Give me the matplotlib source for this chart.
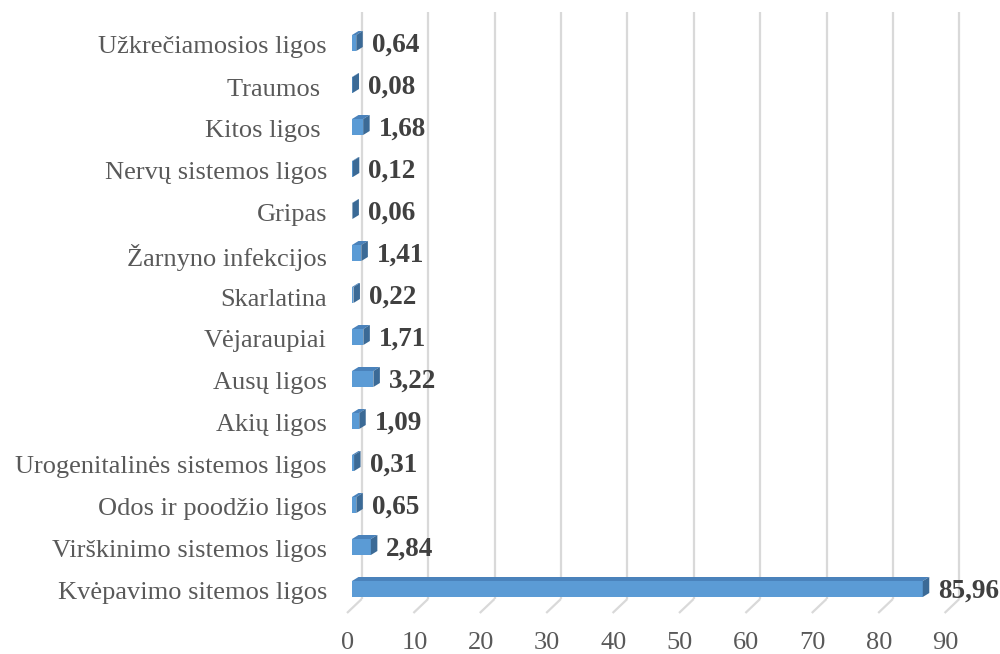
import matplotlib
matplotlib.use("Agg")
import matplotlib.pyplot as plt
from matplotlib.patches import Polygon
from matplotlib.transforms import ScaledTranslation

plt.rcParams['font.family'] = ['Liberation Serif', 'DejaVu Serif']

categories = [
    "Kvėpavimo sitemos ligos",
    "Virškinimo sistemos ligos",
    "Odos ir poodžio ligos",
    "Urogenitalinės sistemos ligos",
    "Akių ligos",
    "Ausų ligos",
    "Vėjaraupiai",
    "Skarlatina",
    "Žarnyno infekcijos",
    "Gripas",
    "Nervų sistemos ligos",
    "Kitos ligos ",
    "Traumos ",
    "Užkrečiamosios ligos",
]
values = [85.96, 2.84, 0.65, 0.31, 1.09, 3.22, 1.71, 0.22, 1.41, 0.06, 0.12, 1.68, 0.08, 0.64]
value_labels = ["85,96", "2,84", "0,65", "0,31", "1,09", "3,22", "1,71", "0,22", "1,41",
                "0,06", "0,12", "1,68", "0,08", "0,64"]
xticks = [0, 10, 20, 30, 40, 50, 60, 70, 80, 90]

W, H, DPI = 1000, 654, 100
fig = plt.figure(figsize=(W / DPI, H / DPI), dpi=DPI)

# axes geometry in pixels (from top-left)
ax_left_px, ax_right_px = 352, 949.6
ax_top_px, ax_bot_px = 12, 599
ymin = -8 / 42
ymax = (591 - 12) / 42
ax = fig.add_axes([ax_left_px / W, (H - ax_bot_px) / H,
                   (ax_right_px - ax_left_px) / W, (ax_bot_px - ax_top_px) / H])
ax.set_xlim(0, 90)
ax.set_ylim(ymin, ymax)
for s in ax.spines.values():
    s.set_visible(False)

PX = 90 / (ax_right_px - ax_left_px)   # data x per pixel
PY = 1 / 42                              # data y per pixel

# back-wall gridlines and floor diagonals
back_dx = 9.7 * PX
for t in xticks:
    ax.plot([t + back_dx, t + back_dx], [ymin, ymax], color='#d9d9d9', lw=1.6,
            zorder=0, clip_on=False, solid_capstyle='butt')
    ax.plot([t + back_dx, t - 5 * PX], [ymin, ymin - 14 * PY], color='#d9d9d9', lw=1.6,
            zorder=0, clip_on=False, solid_capstyle='butt')

front_col = '#5b9bd5'
top_col = '#4a82bb'
side_col = '#3b6a96'
h = 16 * PY
dx, dy = 6.5 * PX, 4 * PY
for k, (v, lab) in enumerate(zip(values, value_labels)):
    yc = k + 2 * PY
    ax.barh(yc, v, height=h, left=0, color=front_col, edgecolor='none', zorder=3)
    top = yc + h / 2
    bot = yc - h / 2
    ax.add_patch(Polygon([(0, top), (v, top), (v + dx, top + dy), (dx, top + dy)],
                         closed=True, facecolor=top_col, edgecolor='none', zorder=3))
    ax.add_patch(Polygon([(v, bot), (v, top), (v + dx, top + dy), (v + dx, bot + dy)],
                         closed=True, facecolor=side_col, edgecolor='none', zorder=3))
    ax.text(v + 15.5 * PX, k, lab, ha='left', va='center', fontsize=19.5,
            fontweight='bold', color='#404040', zorder=4)

ax.set_yticks(range(len(categories)))
ax.set_yticklabels(categories, fontsize=19, color='#595959')
ax.tick_params(axis='y', length=0, pad=18)

ax.set_xticks(xticks)
ax.set_xticklabels([str(t) for t in xticks], fontsize=19, color='#595959')
ax.tick_params(axis='x', length=0, pad=24)
for lbl in ax.get_xticklabels():
    lbl.set_transform(lbl.get_transform() + ScaledTranslation(-4 / DPI, 0, fig.dpi_scale_trans))

fig.savefig("out.png", dpi=DPI)
